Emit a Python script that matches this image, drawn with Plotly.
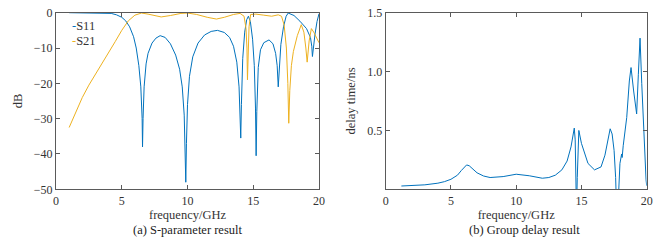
import plotly.graph_objects as go

# ---- data ----
s11_freq = [1.0, 2.0, 3.0, 3.8, 4.2, 4.6, 5.0, 5.3, 5.6, 5.9, 6.1, 6.3, 6.45, 6.55, 6.58, 6.62, 6.7, 6.85, 7.0, 7.3, 7.6, 7.92, 8.3, 8.7, 9.1, 9.4, 9.6, 9.75, 9.83, 9.87, 9.92, 10.0, 10.15, 10.4, 10.8, 11.3, 11.8, 12.28, 12.8, 13.2, 13.5, 13.75, 13.92, 14.02, 14.05, 14.1, 14.2, 14.35, 14.5, 14.63, 14.78, 14.95, 15.08, 15.17, 15.22, 15.27, 15.38, 15.55, 15.8, 16.2, 16.5, 16.7, 16.82, 16.9, 16.98, 17.1, 17.3, 17.5, 17.66, 18.1, 18.55, 19.05, 19.35, 19.45, 19.5, 19.6, 19.7, 19.85, 20.0]
s11_db = [0.0, 0.0, 0.0, -0.05, -0.2, -0.6, -1.3, -2.3, -4.0, -6.8, -10.0, -15.0, -21.0, -30.0, -38.0, -30.0, -21.0, -14.5, -11.5, -8.6, -7.2, -6.5, -7.0, -8.8, -12.0, -16.0, -21.0, -29.0, -38.0, -48.0, -37.0, -26.0, -18.0, -12.5, -8.6, -6.3, -5.3, -5.0, -5.6, -7.0, -9.5, -14.0, -21.0, -30.0, -35.5, -26.0, -13.0, -5.5, -2.0, -1.0, -2.5, -7.5, -15.0, -27.0, -40.5, -28.0, -15.5, -10.5, -8.5, -7.7, -8.8, -11.5, -15.0, -21.0, -16.0, -9.0, -4.0, -1.0, -0.1, -0.8, -2.4, -4.5, -7.0, -9.5, -12.4, -9.0, -6.0, -2.5, -0.3]

s21_freq = [1.0, 1.5, 2.0, 2.5, 3.0, 3.5, 4.0, 4.5, 5.0, 5.5, 6.0, 6.5, 7.0, 7.5, 8.0, 8.7, 9.5, 10.0, 10.7, 11.5, 12.2, 12.8, 13.5, 14.0, 14.3, 14.45, 14.52, 14.56, 14.6, 14.68, 14.8, 15.2, 15.8, 16.4, 16.9, 17.15, 17.35, 17.52, 17.63, 17.7, 17.78, 17.9, 18.05, 18.35, 18.65, 18.85, 19.0, 19.1, 19.25, 19.42, 19.6, 19.8, 20.0]
s21_db = [-32.5, -28.0, -24.0, -20.5, -17.5, -14.5, -11.5, -8.2, -5.0, -2.3, -0.7, -0.1, -0.4, -0.9, -1.2, -0.8, -0.2, -0.1, -0.5, -1.3, -1.8, -1.3, -0.5, -0.2, -1.0, -4.5, -10.0, -19.0, -10.0, -4.0, -0.5, -0.4, -0.7, -1.0, -0.6, -1.0, -3.5, -10.0, -20.0, -31.3, -22.0, -15.0, -11.0, -6.5, -3.4, -5.5, -10.0, -14.0, -8.0, -4.5, -5.5, -7.0, -8.5]

gd_freq = [1.2, 2.0, 3.0, 4.0, 4.5, 5.0, 5.5, 5.8, 6.0, 6.2, 6.4, 6.7, 7.0, 7.5, 8.0, 9.0, 10.0, 11.0, 12.0, 12.5, 13.0, 13.5, 13.9, 14.2, 14.35, 14.45, 14.52, 14.57, 14.62, 14.68, 14.73, 14.8, 15.0, 15.5, 16.0, 16.5, 16.8, 17.05, 17.2, 17.35, 17.5, 17.62, 17.7, 17.82, 17.95, 18.08, 18.12, 18.2, 18.47, 18.67, 18.8, 19.0, 19.15, 19.23, 19.36, 19.49, 19.62, 19.8, 19.95, 20.0]
gd_ns = [0.028, 0.032, 0.038, 0.052, 0.065, 0.085, 0.12, 0.16, 0.185, 0.207, 0.2, 0.17, 0.14, 0.113, 0.1, 0.108, 0.128, 0.115, 0.094, 0.1, 0.12, 0.165, 0.24, 0.36, 0.46, 0.52, 0.42, 0.1, -0.2, 0.1, 0.35, 0.5, 0.39, 0.22, 0.165, 0.19, 0.29, 0.45, 0.514, 0.47, 0.33, 0.1, -0.2, -0.1, 0.22, 0.3, 0.27, 0.37, 0.61, 0.92, 1.034, 0.835, 0.665, 0.64, 0.977, 1.284, 0.9, 0.38, 0.08, 0.03]

x_ticks = [0, 5, 10, 15, 20]
db_ticks = [0, -10, -20, -30, -40, -50]
gd_ticks = [0.5, 1.0, 1.5]

BLUE = "#0072BD"
ORANGE = "#EDB120"
FONT = "Liberation Serif"
AX = "#5a5a5a"

fig = go.Figure()
fig.add_trace(go.Scatter(x=s11_freq, y=s11_db, mode="lines", name="S11",
                         line=dict(color=BLUE, width=1), xaxis="x", yaxis="y", showlegend=False))
fig.add_trace(go.Scatter(x=s21_freq, y=s21_db, mode="lines", name="S21",
                         line=dict(color=ORANGE, width=1), xaxis="x", yaxis="y", showlegend=False))
fig.add_trace(go.Scatter(x=gd_freq, y=gd_ns, mode="lines", name="Group delay",
                         line=dict(color=BLUE, width=1), xaxis="x2", yaxis="y2", showlegend=False))

W, H = 667, 248
def px(x):
    return x / W
def py(y):
    return 1 - y / H

axis_common = dict(showgrid=False, zeroline=False, showline=True, linecolor=AX, linewidth=1,
                   mirror="ticks", ticks="inside", ticklen=4, tickcolor=AX, automargin=False,
                   tickfont=dict(family=FONT, size=12, color="#333"))

fig.update_layout(
    width=W, height=H, margin=dict(l=0, r=0, t=0, b=0, autoexpand=False),
    paper_bgcolor="white", plot_bgcolor="white", showlegend=False,
    font=dict(family=FONT, size=12, color="#333"),
    xaxis=dict(domain=[px(56), px(319)], range=[0, 20], tickvals=x_ticks, anchor="y",
               title=dict(text="frequency/GHz", standoff=2, font=dict(family=FONT, size=12.5)), **axis_common),
    yaxis=dict(domain=[py(189.3), py(12.7)], range=[-50, 0], tickvals=db_ticks, anchor="x",
               title=dict(text="dB", standoff=8, font=dict(family=FONT, size=12.5)), **axis_common),
    xaxis2=dict(domain=[px(385.7), px(646.7)], range=[0, 20], tickvals=x_ticks, anchor="y2",
                title=dict(text="frequency/GHz", standoff=2, font=dict(family=FONT, size=12.5)), **axis_common),
    yaxis2=dict(domain=[py(189.3), py(12.7)], range=[0, 1.5], tickvals=gd_ticks, tickformat=".1f", anchor="x2",
                title=dict(text="delay time/ns", standoff=8, font=dict(family=FONT, size=12.5)), **axis_common),
)

annotations = [
    dict(text="(a) S-parameter result", x=px(187), y=py(230), xref="paper", yref="paper",
         showarrow=False, font=dict(family=FONT, size=12.5, color="#222"), xanchor="center", yanchor="middle"),
    dict(text="(b) Group delay result", x=px(524), y=py(230), xref="paper", yref="paper",
         showarrow=False, font=dict(family=FONT, size=12.5, color="#222"), xanchor="center", yanchor="middle"),
    dict(text=f"<span style='color:{BLUE}'>-</span>S11", x=px(70), y=py(26), xref="paper", yref="paper",
         showarrow=False, font=dict(family=FONT, size=12.5, color="#333"), xanchor="left", yanchor="middle"),
    dict(text=f"<span style='color:{ORANGE}'>-</span>S21", x=px(70), y=py(41), xref="paper", yref="paper",
         showarrow=False, font=dict(family=FONT, size=12.5, color="#333"), xanchor="left", yanchor="middle"),
]
fig.update_layout(annotations=annotations)

# remove the browser's default 8px body margin so the 667x248 figure fills the window exactly
fig.write_html("out.html", config={"displayModeBar": False},
               post_script="document.body.style.margin='0px';")
